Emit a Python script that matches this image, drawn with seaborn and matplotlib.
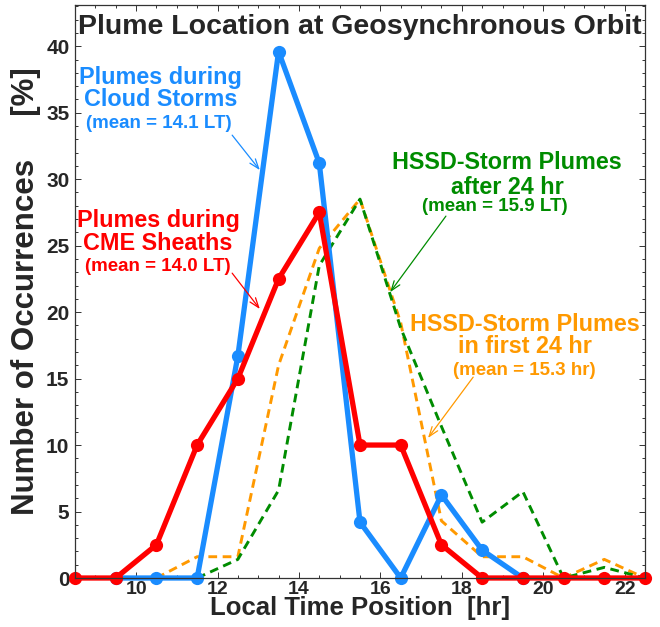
import matplotlib
matplotlib.use('Agg')
import matplotlib.pyplot as plt
from matplotlib.ticker import MultipleLocator
import seaborn as sns

# Local time bins (hr) and occurrence percentages
cloud_lt = [9.5, 10.5, 11.5, 12.5, 13.5, 14.5, 15.5, 16.5, 17.5, 18.5, 19.5]
cloud_pct = [0, 0, 0, 16.7, 39.6, 31.2, 4.2, 0, 6.25, 2.1, 0]

cme_lt = [8.5, 9.5, 10.5, 11.5, 12.5, 13.5, 14.5, 15.5, 16.5, 17.5,
          18.5, 19.5, 20.5, 21.5, 22.5]
cme_pct = [0, 0, 2.5, 10, 15, 22.5, 27.5, 10, 10, 2.5, 0, 0, 0, 0, 0]

first24_lt = [10.5, 11.5, 12.5, 13.5, 14.5, 15.5, 16.5, 17.5, 18.5, 19.5,
              20.5, 21.5, 22.5]
first24_pct = [0, 1.6, 1.6, 16.0, 24.8, 28.5, 19.2, 4.3, 1.6, 1.6, 0, 1.4, 0]

after24_lt = [11.5, 12.5, 13.5, 14.5, 15.5, 16.5, 17.5, 18.5, 19.5, 20.5,
              21.5, 22.5]
after24_pct = [0, 1.4, 6.6, 23.5, 28.5, 18.8, 11.4, 4.2, 6.5, 0, 0.8, 0]

BLUE = '#1a8cff'
RED = '#ff0000'
GREEN = '#008c00'
ORANGE = '#ff9900'

sns.set_style('ticks')
plt.rcParams['font.family'] = ['Liberation Sans', 'DejaVu Sans']
plt.rcParams['font.weight'] = 'bold'
plt.rcParams['lines.dashed_pattern'] = [3.0, 1.9]

fig = plt.figure(figsize=(6.6, 6.27), dpi=100)
ax = fig.add_axes([75 / 660, 1 - 578 / 627, 570 / 660, 573 / 627])

# dashed HSSD curves underneath
sns.lineplot(x=first24_lt, y=first24_pct, ax=ax, color=ORANGE,
             linewidth=2.1, linestyle='--', sort=False)
sns.lineplot(x=after24_lt, y=after24_pct, ax=ax, color=GREEN,
             linewidth=2.1, linestyle='--', sort=False)
# solid curves with markers
sns.lineplot(x=cloud_lt, y=cloud_pct, ax=ax, color=BLUE, linewidth=3.8,
             marker='o', markersize=9.5, markeredgewidth=0, sort=False,
             clip_on=False)
sns.lineplot(x=cme_lt, y=cme_pct, ax=ax, color=RED, linewidth=3.8,
             marker='o', markersize=9.5, markeredgewidth=0, sort=False,
             clip_on=False)

ax.set_xlim(8.5, 22.5)
ax.set_ylim(0, 43.1)
ax.xaxis.set_major_locator(MultipleLocator(2))
ax.xaxis.set_minor_locator(MultipleLocator(0.5))
ax.yaxis.set_major_locator(MultipleLocator(5))
ax.yaxis.set_minor_locator(MultipleLocator(1))
ax.tick_params(which='both', direction='in', top=True, right=True,
               width=0.7, color='#333333', labelsize=15, pad=4)
ax.tick_params(axis='x', which='major', labelsize=14, pad=2)
ax.tick_params(which='major', length=4)
ax.tick_params(which='minor', length=2.2)
for s in ax.spines.values():
    s.set_linewidth(0.9)
    s.set_color('#333333')
for lab in ax.get_xticklabels() + ax.get_yticklabels():
    lab.set_fontweight('bold')

ax.set_xlabel('Local Time Position  [hr]', fontsize=18.5, fontweight='bold',
              labelpad=-1)
ax.set_ylabel('Number of Occurrences     [%]', fontsize=22.5,
              fontweight='bold', labelpad=4)
ax.text(0.5, 0.962, 'Plume Location at Geosynchronous Orbit',
        transform=ax.transAxes, ha='center', va='center', fontsize=20.5,
        fontweight='bold')


def label(lines, x, ys, color, mean, ymean, xmean=None):
    for txt, y in zip(lines, ys):
        ax.text(x, y, txt, color=color, ha='center', va='center',
                fontsize=16.8, fontweight='bold')
    ax.text(xmean if xmean is not None else x, ymean, mean, color=color,
            ha='center', va='center', fontsize=13.5, fontweight='bold')


def arrow(start, end, color):
    ax.annotate('', xy=end, xytext=start,
                arrowprops=dict(arrowstyle='->,head_length=0.7,head_width=0.25',
                                color=color, lw=0.9, shrinkA=0, shrinkB=0))


label(['Plumes during', 'Cloud Storms'], 10.61, [37.67, 36.02], BLUE,
      '(mean = 14.1 LT)', 34.21, 10.56)
arrow((12.36, 33.31), (13.04, 30.68), BLUE)

label(['Plumes during', 'CME Sheaths'], 10.54, [26.92, 25.19], RED,
      '(mean = 14.0 LT)', 23.46)
arrow((12.36, 22.93), (13.04, 20.23), RED)

label(['HSSD-Storm Plumes', 'after 24 hr'], 19.11, [31.28, 29.40], GREEN,
      '(mean = 15.9 LT)', 27.97, 18.82)
arrow((17.61, 27.22), (16.24, 21.50), GREEN)

label(['HSSD-Storm Plumes', 'in first 24 hr'], 19.55, [19.10, 17.44], ORANGE,
      '(mean = 15.3 hr)', 15.64, 19.53)
arrow((18.28, 15.11), (17.17, 10.53), ORANGE)

fig.savefig('out.png', dpi=100)
